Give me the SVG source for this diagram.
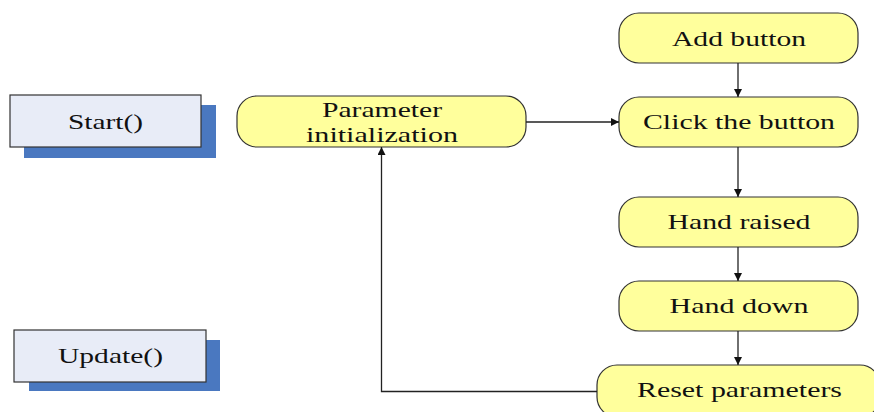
<svg xmlns="http://www.w3.org/2000/svg" width="874" height="412" viewBox="0 0 874 412">
  <style>
    .lbl { font-family: "Liberation Serif", "Times New Roman", serif; font-size: 22px; fill: #111; text-anchor: middle; }
    .step { fill: #ffff9c; stroke: #333; stroke-width: 1.2; }
    .func { fill: #e8ecf7; stroke: #333; stroke-width: 1.2; }
    .shadow { fill: #4a78c0; }
    .wire { fill: none; stroke: #222; stroke-width: 1.3; }
  </style>
  <defs>
    <marker id="arrow" viewBox="0 0 10 10" refX="10" refY="5" markerWidth="10" markerHeight="8" markerUnits="userSpaceOnUse" orient="auto">
      <path d="M0,0 L10,5 L0,10 z" fill="#111"/>
    </marker>
  </defs>
  <rect width="874" height="412" fill="#ffffff"/>

  <!-- script entry points -->
  <g id="start">
    <rect class="shadow" x="24" y="105" width="192" height="53"/>
    <rect class="func" x="10" y="95" width="191" height="52"/>
    <text class="lbl" x="105.5" y="129" textLength="75" lengthAdjust="spacingAndGlyphs">Start()</text>
  </g>
  <g id="update">
    <rect class="shadow" x="29" y="340" width="191" height="51"/>
    <rect class="func" x="14" y="330" width="192" height="52"/>
    <text class="lbl" x="110.5" y="363" textLength="105" lengthAdjust="spacingAndGlyphs">Update()</text>
  </g>

  <!-- flow steps -->
  <g id="param-init">
    <rect class="step" x="237" y="96" width="289" height="51" rx="20"/>
    <text class="lbl" x="382" y="117" textLength="120" lengthAdjust="spacingAndGlyphs">Parameter</text>
    <text class="lbl" x="382" y="142" textLength="152" lengthAdjust="spacingAndGlyphs">initialization</text>
  </g>
  <g id="add-button">
    <rect class="step" x="619" y="13" width="239" height="50" rx="20"/>
    <text class="lbl" x="739" y="46" textLength="134" lengthAdjust="spacingAndGlyphs">Add button</text>
  </g>
  <g id="click-button">
    <rect class="step" x="619" y="97" width="239" height="50" rx="20"/>
    <text class="lbl" x="739" y="129" textLength="192" lengthAdjust="spacingAndGlyphs">Click the button</text>
  </g>
  <g id="hand-raised">
    <rect class="step" x="619" y="197" width="239" height="50" rx="20"/>
    <text class="lbl" x="739" y="229" textLength="143" lengthAdjust="spacingAndGlyphs">Hand raised</text>
  </g>
  <g id="hand-down">
    <rect class="step" x="619" y="281" width="239" height="50" rx="20"/>
    <text class="lbl" x="739" y="313" textLength="139" lengthAdjust="spacingAndGlyphs">Hand down</text>
  </g>
  <g id="reset-params">
    <rect class="step" x="597" y="365" width="283" height="52" rx="20"/>
    <text class="lbl" x="739.5" y="397" textLength="205" lengthAdjust="spacingAndGlyphs">Reset parameters</text>
  </g>

  <!-- connectors -->
  <g id="connectors">
    <line class="wire" x1="526" y1="122" x2="619" y2="122" marker-end="url(#arrow)"/>
    <line class="wire" x1="738" y1="63" x2="738" y2="97" marker-end="url(#arrow)"/>
    <line class="wire" x1="738" y1="147" x2="738" y2="197" marker-end="url(#arrow)"/>
    <line class="wire" x1="738" y1="247" x2="738" y2="281" marker-end="url(#arrow)"/>
    <line class="wire" x1="738" y1="331" x2="738" y2="365" marker-end="url(#arrow)"/>
    <polyline class="wire" points="597,391.5 381.5,391.5 381.5,147" marker-end="url(#arrow)"/>
  </g>
</svg>
